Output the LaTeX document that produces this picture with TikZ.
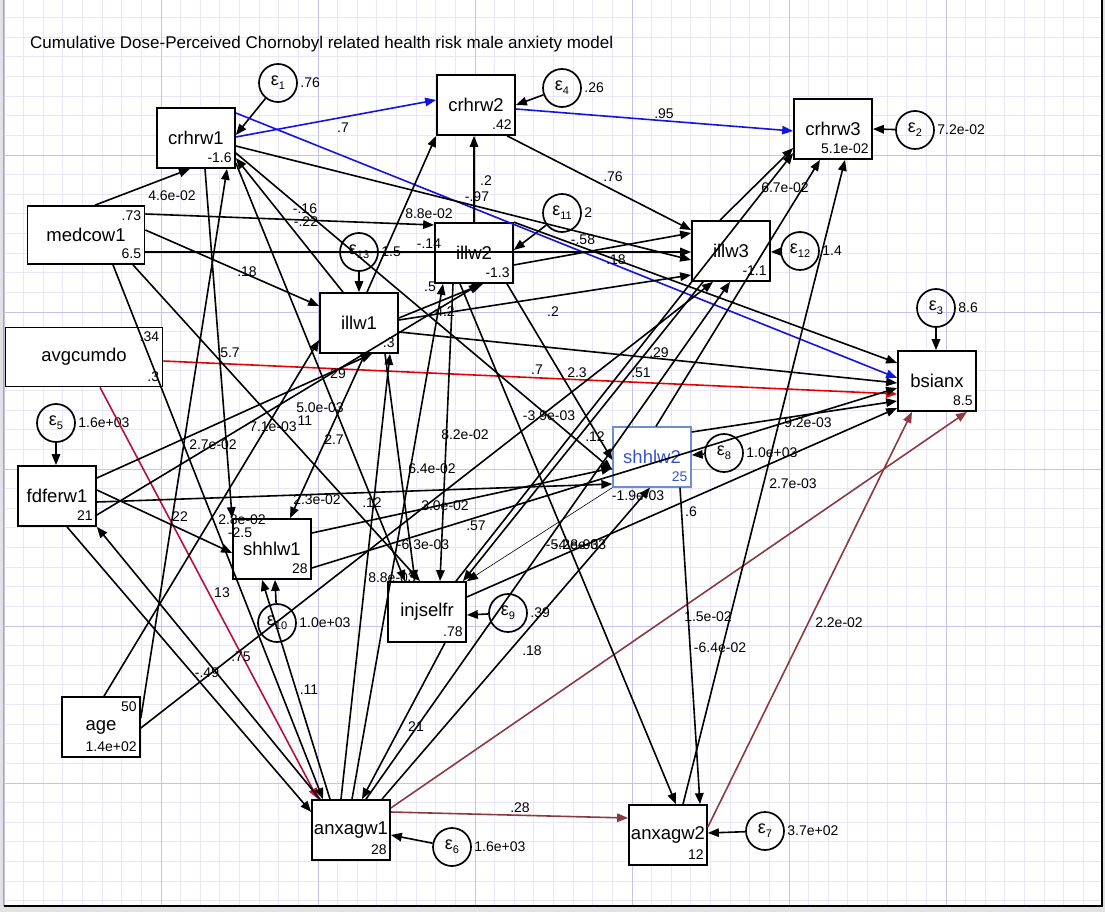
\documentclass[tikz,border=0pt]{standalone}
\usepackage{fontspec}
\setmainfont{Liberation Sans}
\usetikzlibrary{arrows.meta}

\definecolor{gridminor}{RGB}{232,230,247}
\definecolor{gridmajor}{RGB}{198,194,232}
\definecolor{frame}{RGB}{226,226,226}
\definecolor{semblue}{RGB}{20,20,225}
\definecolor{semred}{RGB}{232,0,0}
\definecolor{semcrimson}{RGB}{185,15,60}
\definecolor{sembrown}{RGB}{140,58,64}
\definecolor{selblue}{RGB}{55,85,200}
\definecolor{selframe}{RGB}{110,140,215}

\newcommand{\eps}[1]{ε\raisebox{-4pt}{\fontsize{11}{11}\selectfont #1}}

\tikzset{
  var/.style={draw, fill=white, line width=1.7pt, minimum width=78pt, minimum height=60pt, inner sep=0pt, font=\fontsize{18.5}{20}\selectfont},
  err/.style={draw, circle, line width=1.7pt, minimum size=38pt, inner sep=0pt, font=\fontsize{18}{18}\selectfont},
  pth/.style={line width=1.6pt, -{Triangle[length=11pt,width=8.5pt]}},
  coef/.style={inner sep=0pt, font=\fontsize{14}{16}\selectfont},
  val/.style={coef, anchor=south east},
  topval/.style={coef, anchor=north east},
  errval/.style={coef, anchor=west},
}

\begin{document}
\begin{tikzpicture}[x=1pt, y=-1pt]
  \useasboundingbox (0,0) rectangle (1105,912);

  % Draw the canvas and its grid
  \fill[frame] (0,0) rectangle (1105,912);
  \fill[white] (4,0) rectangle (1102,906);
  \foreach \i in {0,...,55}
    \draw[gridminor, line width=0.8pt] ({4+19.625*\i},0) -- ({4+19.625*\i},906);
  \foreach \i in {1,...,46}
    \draw[gridminor, line width=0.8pt] (4,{-2+19.625*\i}) -- (1102,{-2+19.625*\i});
  \foreach \i in {0,...,6}
    \draw[gridmajor, line width=0.9pt] ({4+157*\i},0) -- ({4+157*\i},906);
  \foreach \i in {1,...,5}
    \draw[gridmajor, line width=0.9pt] (4,{-2+157*\i}) -- (1102,{-2+157*\i});
  \draw[black, line width=1.3pt] (1102,0) -- (1102,906) -- (4,906);
  \draw[gray!70, line width=0.8pt] (3,0) -- (3,906);

  \node[anchor=west, inner sep=0pt, font=\fontsize{17}{19}\selectfont] (title) at (30,44)
    {Cumulative Dose-Perceived Chornobyl related health risk male anxiety model};

  % Observed variables
  \node[var] (crhrw1) at (196,138) {crhrw1};
  \node[var] (crhrw2) at (476,105) {crhrw2};
  \node[var] (crhrw3) at (833,129) {crhrw3};
  \node[var, minimum width=117pt, minimum height=58pt] (medcow1) at (86,235) {medcow1};
  \node[var, minimum width=157pt, minimum height=59pt] (avgcumdo) at (84,357) {avgcumdo};
  \node[var] (illw1) at (359,323) {illw1};
  \node[var] (illw2) at (474,253) {illw2};
  \node[var] (illw3) at (731,251) {illw3};
  \node[var] (bsianx) at (937,381) {bsianx};
  \node[var, draw=selframe, line width=1.3pt, text=selblue] (shhlw2) at (652,457) {shhlw2};
  \node[var] (fdferw1) at (57,496) {fdferw1};
  \node[var] (shhlw1) at (272,549) {shhlw1};
  \node[var] (injselfr) at (427,612) {injselfr};
  \node[var] (age) at (101,727) {age};
  \node[var] (anxagw1) at (351,830) {anxagw1};
  \node[var] (anxagw2) at (668,835) {anxagw2};

  % Intercepts and means in the box corners
  \node[val] (v1) at ([xshift=-4pt,yshift=6pt]crhrw1.south east) {-1.6};
  \node[val] (v2) at ([xshift=-4pt,yshift=6pt]crhrw2.south east) {.42};
  \node[val] (v3) at ([xshift=-4pt,yshift=6pt]crhrw3.south east) {5.1e-02};
  \node[topval] (v4) at ([xshift=-4pt,yshift=-5pt]medcow1.north east) {.73};
  \node[val] (v5) at ([xshift=-4pt,yshift=6pt]medcow1.south east) {6.5};
  \node[topval] (v6) at ([xshift=-4pt,yshift=-5pt]avgcumdo.north east) {.34};
  \node[val] (v7) at ([xshift=-4pt,yshift=6pt]avgcumdo.south east) {.3};
  \node[val] (v8) at ([xshift=-4pt,yshift=6pt]illw1.south east) {.3};
  \node[val] (v9) at ([xshift=-4pt,yshift=6pt]illw2.south east) {-1.3};
  \node[val] (v10) at ([xshift=-4pt,yshift=6pt]illw3.south east) {-1.1};
  \node[val] (v11) at ([xshift=-4pt,yshift=6pt]bsianx.south east) {8.5};
  \node[val, text=selblue] (v12) at ([xshift=-4pt,yshift=6pt]shhlw2.south east) {25};
  \node[val] (v13) at ([xshift=-4pt,yshift=6pt]fdferw1.south east) {21};
  \node[val] (v14) at ([xshift=-4pt,yshift=6pt]shhlw1.south east) {28};
  \node[val] (v15) at ([xshift=-4pt,yshift=6pt]injselfr.south east) {.78};
  \node[topval] (v16) at ([xshift=-4pt,yshift=-5pt]age.north east) {50};
  \node[val] (v17) at ([xshift=-4pt,yshift=6pt]age.south east) {1.4e+02};
  \node[val] (v18) at ([xshift=-4pt,yshift=6pt]anxagw1.south east) {28};
  \node[val] (v19) at ([xshift=-4pt,yshift=6pt]anxagw2.south east) {12};

  % Error terms
  \node[err] (e1) at (278,83) {\eps{1}};
  \node[err] (e4) at (562,88) {\eps{4}};
  \node[err] (e2) at (915,130) {\eps{2}};
  \node[err] (e11) at (562,213) {\eps{11}};
  \node[err] (e13) at (359,252) {\eps{13}};
  \node[err] (e12) at (800,251) {\eps{12}};
  \node[err] (e3) at (936,308) {\eps{3}};
  \node[err] (e5) at (56,423) {\eps{5}};
  \node[err] (e8) at (724,453) {\eps{8}};
  \node[err] (e10) at (277,623) {\eps{10}};
  \node[err] (e9) at (508,613) {\eps{9}};
  \node[err] (e6) at (452,847) {\eps{6}};
  \node[err] (e7) at (765,831) {\eps{7}};

  \node[errval] (ev1) at (e1.east) {\,.76};
  \node[errval] (ev4) at (e4.east) {\,.26};
  \node[errval] (ev2) at (e2.east) {\,7.2e-02};
  \node[errval] (ev11) at (e11.east) {\,2};
  \node[errval] (ev13) at (e13.east) {\,1.5};
  \node[errval] (ev12) at (e12.east) {\,1.4};
  \node[errval] (ev3) at (e3.east) {\,8.6};
  \node[errval] (ev5) at (e5.east) {\,1.6e+03};
  \node[errval] (ev8) at (e8.east) {\,1.0e+03};
  \node[errval] (ev10) at (e10.east) {\,1.0e+03};
  \node[errval] (ev9) at (e9.east) {\,.39};
  \node[errval] (ev6) at (e6.east) {\,1.6e+03};
  \node[errval] (ev7) at (e7.east) {\,3.7e+02};

  % Draw the error arrows
  \draw[pth] (e1) -- ([yshift=3pt]crhrw1.east);
  \draw[pth] (e4) -- (crhrw2.east);
  \draw[pth] (e2) -- (crhrw3.east);
  \draw[pth] (e11) -- ([yshift=3pt]illw2.east);
  \draw[pth] (e13) -- (illw1.north);
  \draw[pth] (e12) -- ([yshift=-1pt]illw3.east);
  \draw[pth] (e3) -- ([xshift=-1pt]bsianx.north);
  \draw[pth] (e5) -- ([xshift=-1pt]fdferw1.north);
  \draw[pth] (e8) -- ([yshift=2pt]shhlw2.east);
  \draw[pth] (e10) -- ([xshift=3pt]shhlw1.south);
  \draw[pth] (e9) -- ([yshift=-3pt]injselfr.east);
  \draw[pth] (e6) -- ([yshift=-5pt]anxagw1.east);
  \draw[pth] (e7) -- ([yshift=2pt]anxagw2.east);

  % Draw the coloured paths
  \draw[pth, semblue] ([yshift=1pt]crhrw1.east) -- ([yshift=5pt]crhrw2.west);
  \draw[pth, semblue] ([yshift=-4pt]crhrw2.east) -- ([yshift=-2pt]crhrw3.west);
  \draw[pth, semblue] ([yshift=25pt]crhrw1.east) -- ([yshift=3pt]bsianx.west);
  \draw[pth, semred] ([yshift=-4pt]avgcumdo.east) -- ([yshift=-13pt]bsianx.west);
  \draw[pth, semcrimson] ([xshift=16pt]avgcumdo.south) -- ([xshift=-33pt]anxagw1.north);
  \draw[pth, sembrown] ([yshift=18pt]anxagw1.east) -- ([yshift=17pt]anxagw2.west);
  \draw[pth, sembrown] ([yshift=22pt]anxagw1.east) -- ([xshift=30pt]bsianx.south);
  \draw[pth, sembrown] ([yshift=8pt]anxagw2.east) -- ([xshift=-25pt]bsianx.south);

  % Draw the paths out of medcow1 and age
  \draw[pth] ([xshift=9pt]medcow1.north) -- ([xshift=-6pt]crhrw1.south);
  \draw[pth] ([yshift=21pt]medcow1.east) -- ([yshift=28pt]illw2.west);
  \draw[pth] ([yshift=-17pt]medcow1.east) -- ([yshift=-1pt]illw3.west);
  \draw[pth] ([yshift=5pt]medcow1.east) -- ([yshift=17pt]illw1.west);
  \draw[pth] ([xshift=47pt]medcow1.south) -- ([xshift=-7pt]injselfr.north);
  \draw[pth] ([xshift=27pt]medcow1.south) -- ([xshift=-28pt]anxagw1.north);
  \draw[pth] ([yshift=9pt]age.east) -- ([xshift=31pt]crhrw1.south);
  \draw[pth] ([xshift=3pt]age.north) -- ([yshift=-17pt]illw1.west);
  \draw[pth] ([yshift=-1pt]age.east) -- ([xshift=-18pt]illw3.south);

  % Draw the paths out of crhrw1 and crhrw2
  \draw[pth] ([yshift=-8pt]crhrw1.east) -- ([yshift=-9pt]illw3.west);
  \draw[pth] ([yshift=-15pt]crhrw1.east) -- ([yshift=-13pt]shhlw2.west);
  \draw[pth] ([yshift=-25pt]crhrw1.east) -- ([xshift=-22pt]injselfr.north);
  \draw[pth] ([xshift=9pt]crhrw1.south) -- (shhlw1.north west);
  \draw[pth] ([xshift=31pt]crhrw2.south) -- ([yshift=21pt]illw3.west);

  % Draw the paths into crhrw1, crhrw2 and crhrw3
  \draw[pth] ([xshift=-16pt]illw1.north) -- ([yshift=-20pt]crhrw1.east);
  \draw[pth] (illw2.north) -- ([xshift=-2pt]crhrw2.south);
  \draw[pth] ([xshift=8pt]illw1.north) -- (crhrw2.south west);
  \draw[pth] ([xshift=-11pt]illw3.north) -- ([yshift=-19pt]crhrw3.west);
  \draw[pth] ([xshift=29pt]injselfr.north) -- ([yshift=-24pt]crhrw3.west);
  \draw[pth] ([xshift=4pt]shhlw2.north) -- ([xshift=-13pt]crhrw3.south);
  \draw[pth] ([xshift=15pt]anxagw2.north) -- ([xshift=12pt]crhrw3.south);

  % Draw the paths of the illness waves
  \draw[pth] ([yshift=18pt]fdferw1.east) -- ([xshift=13pt]illw1.south);
  \draw[pth] ([yshift=-9pt]illw1.east) -- ([yshift=-2pt]bsianx.west);
  \draw[pth] ([yshift=5pt]illw1.east) -- ([xshift=9pt]illw2.south);
  \draw[pth] ([yshift=3pt]illw1.east) -- ([yshift=-24pt]illw3.west);
  \draw[pth] ([xshift=6pt]illw1.south) -- ([xshift=18pt]shhlw1.north);
  \draw[pth] ([xshift=26pt]illw1.south) -- ([xshift=-12pt]injselfr.north);
  \draw[pth] ([xshift=-10pt]anxagw1.north) -- ([xshift=31pt]illw1.south);
  \draw[pth] ([xshift=1pt]anxagw1.north) -- ([xshift=-31pt]illw2.south);
  \draw[pth] ([yshift=-19pt]fdferw1.east) -- ([xshift=6pt]illw2.south);
  \draw[pth] ([yshift=-12pt]illw2.east) -- ([yshift=18pt]illw3.west);
  \draw[pth] (illw2.north east) -- ([yshift=18pt]bsianx.west);
  \draw[pth] ([xshift=33pt]illw2.south) -- ([yshift=-3pt]shhlw2.west);
  \draw[pth] ([xshift=-14pt]illw2.south) -- ([xshift=8pt]anxagw2.north);
  \draw[pth] ([xshift=-21pt]illw2.south) -- ([xshift=13pt]injselfr.north);
  \draw[pth] ([xshift=15pt]anxagw1.north) -- ([xshift=-1pt]illw3.south);
  \draw[pth] ([xshift=-28pt]illw3.south) -- ([xshift=36pt]injselfr.north);

  % Draw the paths of the self-rated health waves
  \draw[pth] ([yshift=16pt]shhlw1.east) -- ([yshift=-11pt]shhlw2.west);
  \draw[pth] ([xshift=31pt]anxagw1.north) -- ([xshift=-2pt]shhlw2.south);
  \draw[pth] ([yshift=-6pt]fdferw1.east) -- ([yshift=-27pt]shhlw2.west);
  \draw[pth] ([yshift=25pt]shhlw2.east) -- ([yshift=-20pt]bsianx.west);
  \draw[pth] ([xshift=28pt]shhlw2.south) -- ([xshift=32pt]anxagw2.north);
  \draw[pth, line width=0.6pt] (shhlw2.south west) -- (injselfr.north east);
  \draw[pth] ([yshift=6pt]fdferw1.east) -- ([yshift=-4pt]shhlw1.west);
  \draw[pth] ([xshift=-21pt]anxagw1.north) -- ([xshift=-10pt]shhlw1.south);
  \draw[pth] ([yshift=-19pt]shhlw1.east) -- ([yshift=-7pt]bsianx.west);

  % Draw the remaining paths
  \draw[pth] ([xshift=10pt]fdferw1.south) -- ([yshift=18pt]anxagw1.west);
  \draw[pth] ([xshift=-31pt]anxagw1.north) -- (fdferw1.south east);
  \draw[pth] ([yshift=15pt]injselfr.east) -- ([yshift=-27pt]bsianx.west);
  \draw[pth] ([xshift=18pt]injselfr.south) -- ([xshift=11pt]anxagw1.north);

  % Path coefficients
  \node[coef] (c1) at (343,128) {.7};
  \node[coef] (c2) at (664,114) {.95};
  \node[coef] (c3) at (583,240) {-.58};
  \node[coef] (c4) at (537,370) {.7};
  \node[coef] (c5) at (222,593) {13};
  \node[coef] (c6) at (520,808) {.28};
  \node[coef] (c7) at (839,623) {2.2e-02};
  \node[coef] (c8) at (172,196) {4.6e-02};
  \node[coef] (c9) at (429,214) {8.8e-02};
  \node[coef] (c10) at (429,244) {-.14};
  \node[coef] (c11) at (247,272) {.18};
  \node[coef] (c12) at (230,353) {5.7};
  \node[coef] (c13) at (305,209) {-.16};
  \node[coef] (c14) at (306,222) {-.22};
  \node[coef] (c15) at (613,177) {.76};
  \node[coef] (c16) at (486,181) {.2};
  \node[coef] (c17) at (477,197) {-.97};
  \node[coef] (c18) at (616,260) {.18};
  \node[coef] (c19) at (553,312) {.2};
  \node[coef] (c20) at (659,353) {.29};
  \node[coef] (c21) at (577,373) {2.3};
  \node[coef] (c22) at (641,373) {.51};
  \node[coef] (c23) at (549,416) {-3.9e-03};
  \node[coef] (c24) at (595,437) {.12};
  \node[coef] (c25) at (638,496) {-1.9e-03};
  \node[coef] (c26) at (691,512) {.6};
  \node[coef] (c27) at (808,423) {9.2e-03};
  \node[coef] (c28) at (793,484) {2.7e-03};
  \node[coef] (c29) at (785,188) {6.7e-02};
  \node[coef] (c30) at (465,435) {8.2e-02};
  \node[coef] (c31) at (432,469) {6.4e-02};
  \node[coef] (c32) at (445,506) {3.0e-02};
  \node[coef] (c33) at (476,526) {.57};
  \node[coef] (c34) at (423,545) {-6.3e-03};
  \node[coef] (c35) at (392,578) {8.8e-03};
  \node[coef] (c36) at (372,503) {.12};
  \node[coef] (c37) at (317,500) {2.3e-02};
  \node[coef] (c38) at (320,408) {5.0e-03};
  \node[coef] (c39) at (305,421) {11};
  \node[coef] (c40) at (273,427) {7.1e-03};
  \node[coef] (c41) at (334,440) {2.7};
  \node[coef] (c42) at (338,374) {29};
  \node[coef] (c43) at (445,312) {4.2};
  \node[coef] (c44) at (430,287) {.5};
  \node[coef] (c45) at (213,445) {2.7e-02};
  \node[coef] (c46) at (180,517) {22};
  \node[coef] (c47) at (242,520) {2.8e-02};
  \node[coef] (c48) at (240,533) {-2.5};
  \node[coef] (c49) at (241,657) {.75};
  \node[coef] (c50) at (207,673) {-.49};
  \node[coef] (c51) at (309,690) {.11};
  \node[coef] (c52) at (416,727) {21};
  \node[coef] (c53) at (532,651) {.18};
  \node[coef] (c54) at (708,617) {1.5e-02};
  \node[coef] (c55) at (720,648) {-6.4e-02};
  \node[coef] (c56) at (572,545) {-5.2e-03};
  \node[coef] (c57) at (580,545) {-4.8e-03};
\end{tikzpicture}
\end{document}
